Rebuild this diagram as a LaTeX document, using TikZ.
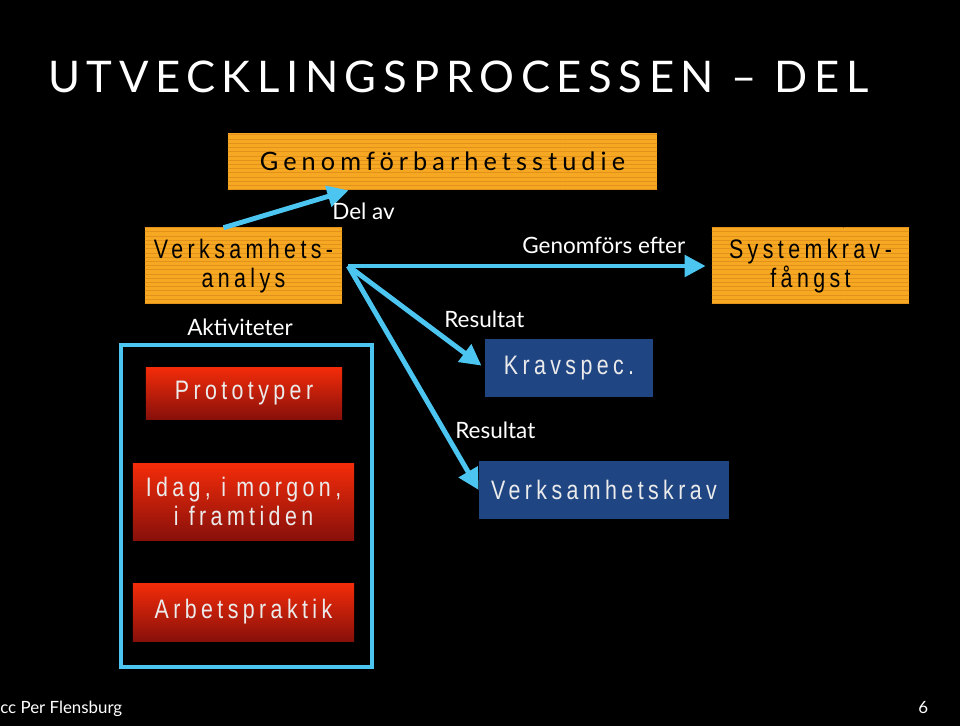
\documentclass[tikz,border=0pt]{standalone}
\usepackage{fontspec}
\setmainfont{Lato}
\newfontfamily\boxfont[FakeStretch=0.8,LetterSpace=16.5]{Liberation Sans}
\newfontfamily\studiefont[LetterSpace=20]{Lato}
\newfontfamily\titlefont[LetterSpace=15]{Lato}
\usetikzlibrary{arrows.meta}
\usetikzlibrary{patterns}
\definecolor{fleche}{RGB}{76,198,240}
\definecolor{orangebox}{RGB}{246,168,35}
\definecolor{orangeline}{RGB}{226,146,26}
\definecolor{rougehaut}{RGB}{244,44,10}
\definecolor{rougebas}{RGB}{136,16,10}
\definecolor{bleubox}{RGB}{31,69,130}
\newcommand{\BoxFont}{\boxfont\fontsize{19}{21}\selectfont}
\newcommand{\LabelFont}{\fontsize{16}{18}\selectfont}
\tikzset{
  etape/.style={inner sep=0pt,align=center,font=\BoxFont},
  jaune/.style={etape,fill=orangebox,text=black,
                postaction={pattern=horizontal lines,pattern color=orangeline}},
  rouge/.style={etape,top color=rougehaut,bottom color=rougebas,text=white!92!black},
  bleu/.style={etape,fill=bleubox,text=white!92!black},
  lien/.style={draw=fleche,line width=3.5pt,
               -{Triangle[length=15pt,width=15pt]}},
  etiquette/.style={inner sep=0pt,text=white,font=\LabelFont}
}

\begin{document}
\begin{tikzpicture}[x=0.025cm,y=-0.025cm]
\fill[black] (0,0) rectangle (960,726);

% titre
\node[anchor=base west,inner sep=0pt,text=white,
      font=\titlefont\fontsize{31}{31}\selectfont] (titre) at (48,92)
      {UTVECKLINGSPROCESSEN – DEL};

% boites
\node[jaune,minimum width=10.725cm,minimum height=1.425cm,
      font=\studiefont\fontsize{18}{21}\selectfont] (genom) at (442.5,161.5)
      {Genomförbarhetsstudie};
\node[jaune,minimum width=4.925cm,minimum height=1.9cm] (verk) at (243.5,266)
      {Verksamhets-\\analys};
\node[jaune,minimum width=4.925cm,minimum height=1.9cm] (syst) at (810.5,266)
      {Systemkrav-\\fångst};
\node[rouge,minimum width=4.9cm,minimum height=1.3cm] (proto) at (244,393)
      {Prototyper};
\node[rouge,minimum width=5.525cm,minimum height=1.925cm] (idag) at (243.5,501.5)
      {Idag, i morgon,\\i framtiden};
\node[rouge,minimum width=5.525cm,minimum height=1.45cm] (arbets) at (243.5,612)
      {Arbetspraktik};
\node[bleu,minimum width=4.2cm,minimum height=1.45cm] (krav) at (569,368)
      {Kravspec.};
\node[bleu,minimum width=6.25cm,minimum height=1.45cm] (vkrav) at (604,490)
      {Verksamhetskrav};

% ram om aktiviteterna
\draw[fleche,line width=2.2pt] (121,345) rectangle (372,667);

% pilar
\coordinate (nav) at ([xshift=0.15cm]verk.east);
\draw[lien] ([xshift=-0.5cm]verk.north) -- ([xshift=-2.35cm]genom.south);
\draw[lien,shorten >=0.15cm] (nav) -- (syst.west);
\draw[lien,shorten >=0.1cm] (nav) -- (krav.west);
\draw[lien] (nav) -- (vkrav.west);

% etiketter
\node[etiquette,anchor=base west] (delav) at (332,219) {Del av};
\node[etiquette,anchor=base west] (efter) at (522,253) {Genomförs efter};
\node[etiquette,anchor=base west] (akt) at (187,335) {Aktiviteter};
\node[etiquette,anchor=base west] (res1) at (444,327) {Resultat};
\node[etiquette,anchor=base west] (res2) at (455,438) {Resultat};

% sidfot
\node[etiquette,anchor=base west,font=\fontsize{12}{14}\selectfont] (cc) at (0,713)
      {cc Per Flensburg};
\node[etiquette,anchor=base west,font=\fontsize{12}{14}\selectfont] (sida) at (918,713)
      {6};
\end{tikzpicture}
\end{document}
